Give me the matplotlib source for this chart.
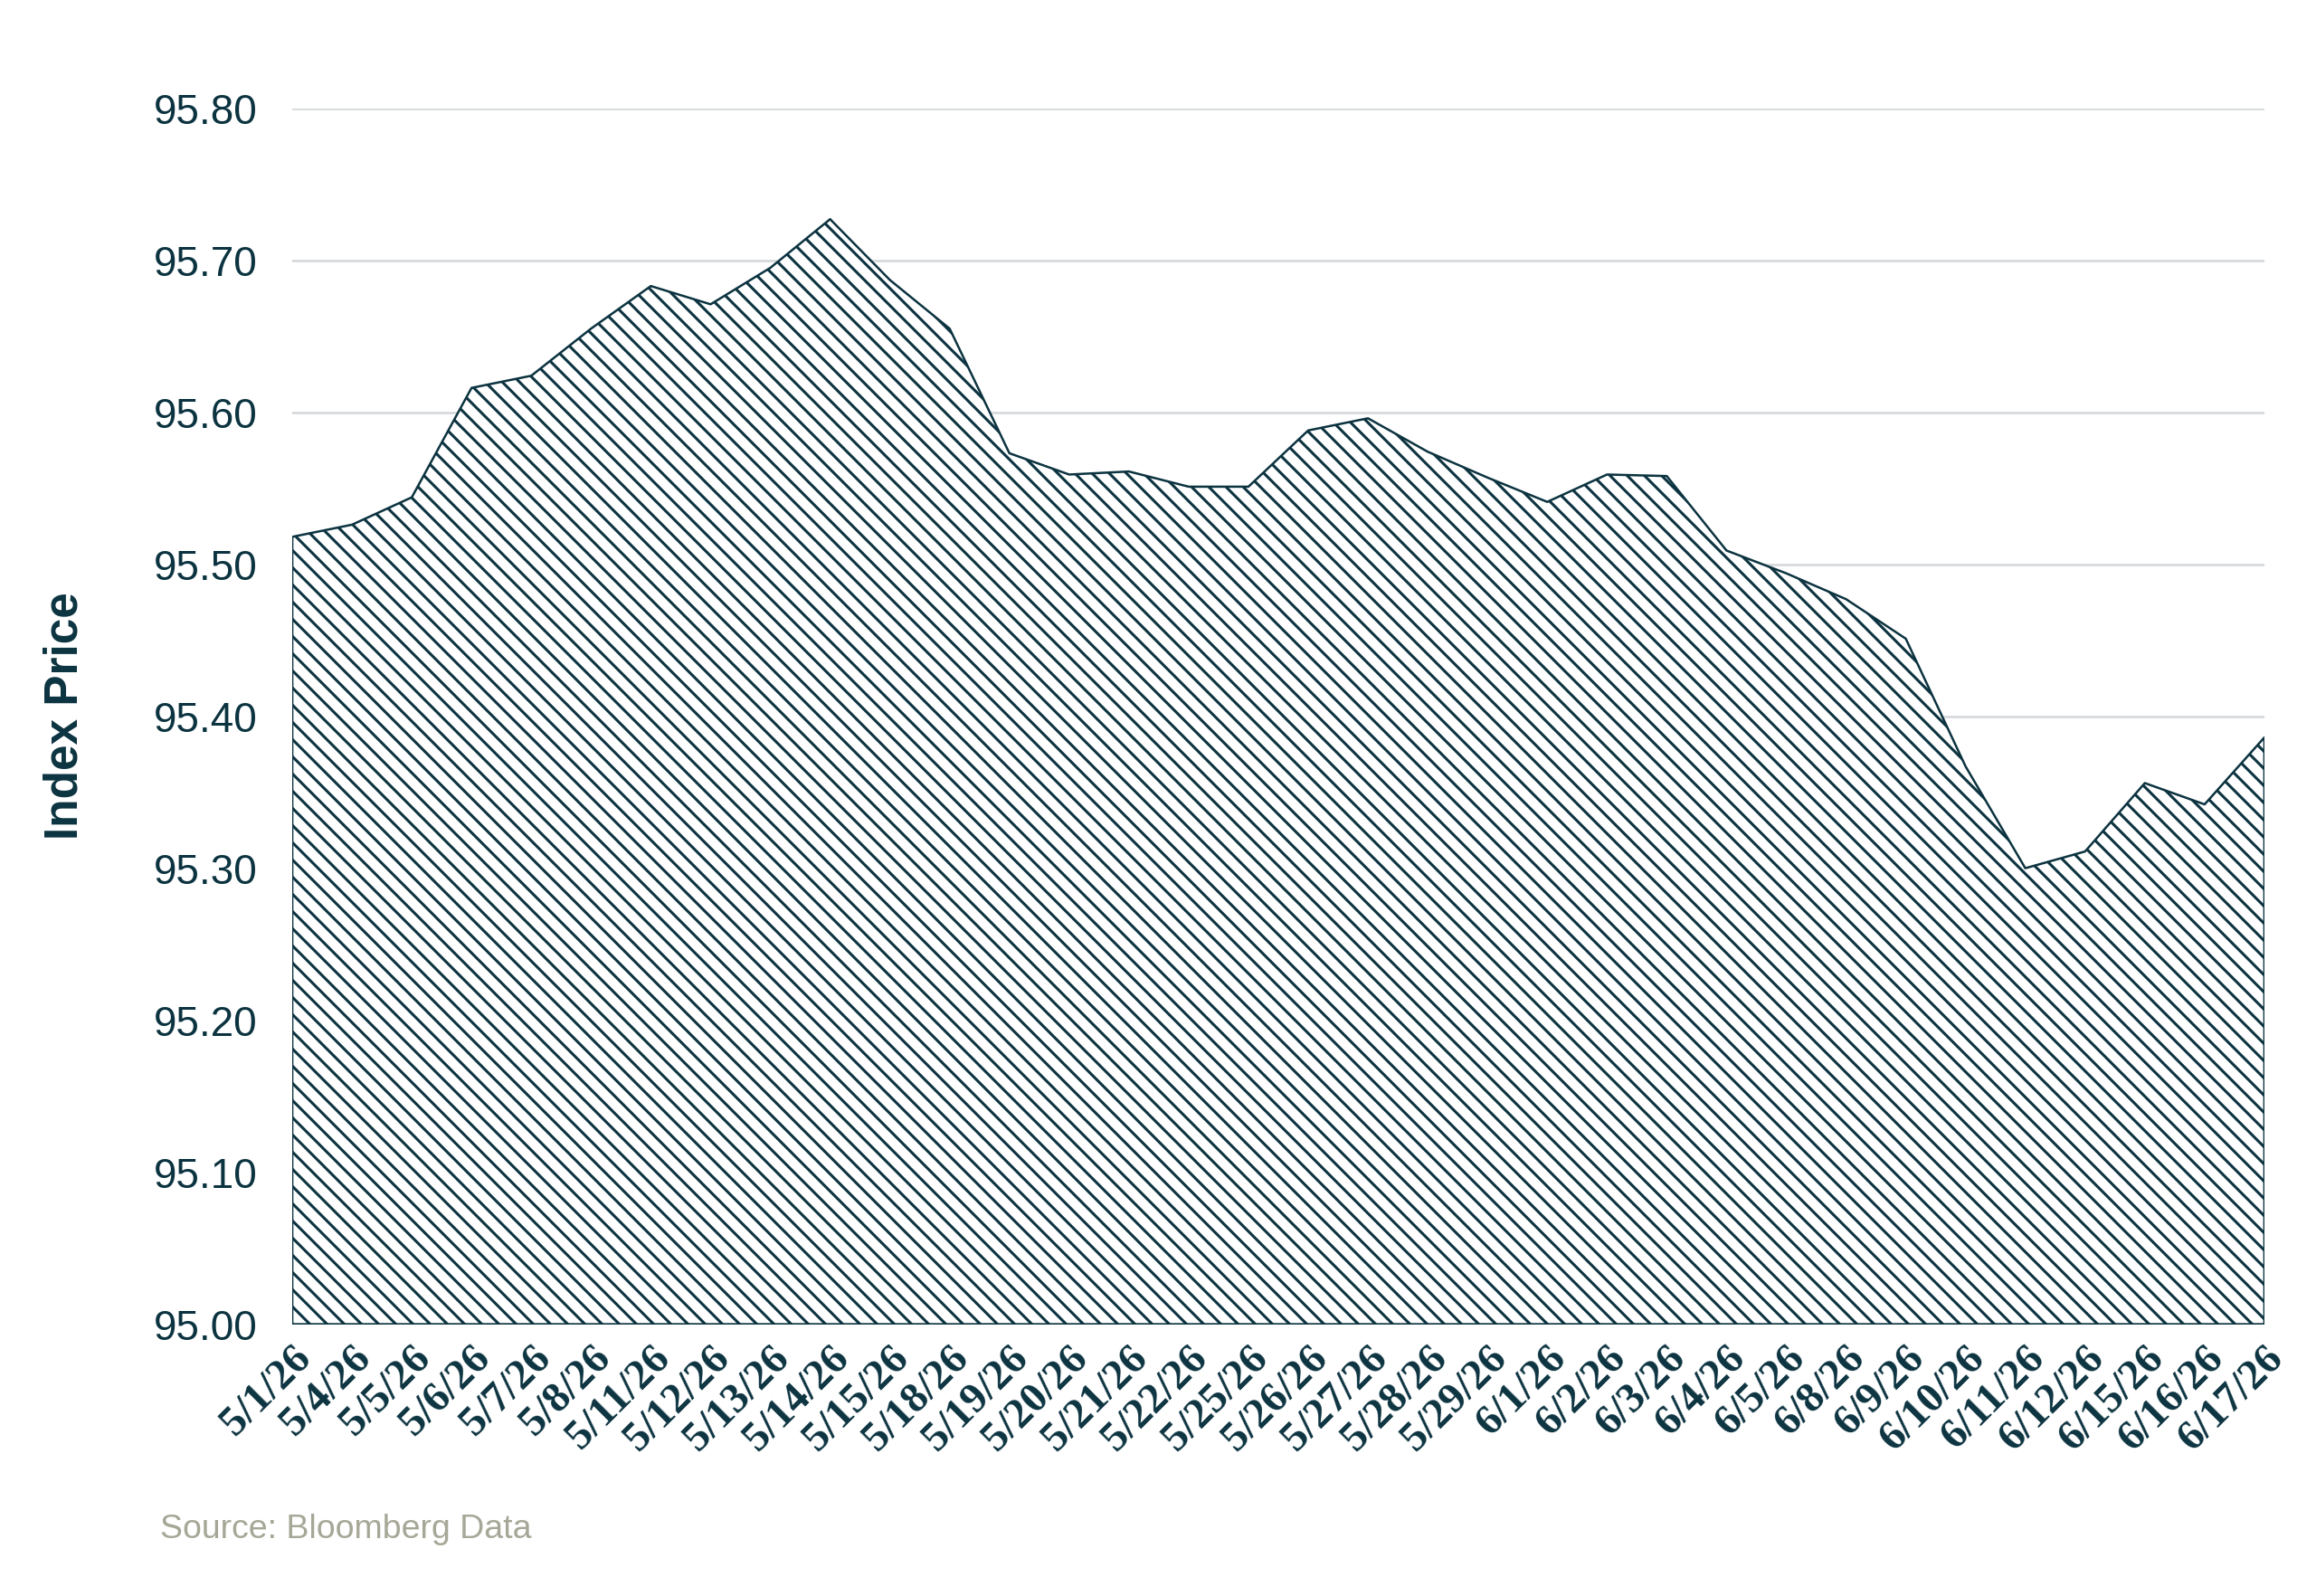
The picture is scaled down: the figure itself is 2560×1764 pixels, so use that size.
import matplotlib
matplotlib.use("Agg")
import matplotlib.pyplot as plt
import numpy as np

# trading days shown on the x axis
dates = ["5/1/26", "5/4/26", "5/5/26", "5/6/26", "5/7/26", "5/8/26", "5/11/26",
         "5/12/26", "5/13/26", "5/14/26", "5/15/26", "5/18/26", "5/19/26", "5/20/26",
         "5/21/26", "5/22/26", "5/25/26", "5/26/26", "5/27/26", "5/28/26", "5/29/26",
         "6/1/26", "6/2/26", "6/3/26", "6/4/26", "6/5/26", "6/8/26", "6/9/26",
         "6/10/26", "6/11/26", "6/12/26", "6/15/26", "6/16/26", "6/17/26"]
# index price
prices = [95.518, 95.526, 95.544, 95.616, 95.624, 95.655, 95.683,
          95.671, 95.695, 95.727, 95.687, 95.655, 95.573, 95.559,
          95.561, 95.551, 95.551, 95.588, 95.596, 95.574, 95.557,
          95.541, 95.559, 95.558, 95.509, 95.494, 95.477, 95.451,
          95.367, 95.300, 95.311, 95.356, 95.342, 95.386]
yticks = [95.00, 95.10, 95.20, 95.30, 95.40, 95.50, 95.60, 95.70, 95.80]

# dpi 114 gives the hatch spacing of the original; sizes below are scaled to it
DPI = 114
k = 100 / DPI
dark = "#0c3340"
plt.rcParams["hatch.linewidth"] = 2.2 * k

fig = plt.figure(figsize=(2560 / DPI, 1764 / DPI), dpi=DPI)
ax = fig.add_axes([0.1262, 0.1703, 0.8515, 0.7619])

x = np.arange(len(dates))
ax.fill_between(x, prices, yticks[0], facecolor="white", edgecolor=dark,
                hatch="\\\\", linewidth=1.8 * k, zorder=3)

ax.set_xlim(0, len(dates) - 1)
ax.set_ylim(yticks[0], yticks[-1])
ax.set_yticks(yticks)
ax.set_yticklabels([f"{v:.2f}" for v in yticks], fontsize=33 * k,
                   family="Liberation Sans", color=dark)
ax.set_xticks(x)
ax.set_xticklabels(dates, rotation=45, ha="right", rotation_mode="anchor",
                   fontsize=34 * k, family="Liberation Serif", fontweight="bold",
                   color=dark)
ax.tick_params(axis="both", length=0)
ax.tick_params(axis="y", pad=28 * k)
ax.tick_params(axis="x", pad=12 * k)

ax.grid(axis="y", color="#d3d6d8", linewidth=1.8 * k, zorder=0)
ax.set_axisbelow(True)
for s in ax.spines.values():
    s.set_visible(False)

ax.set_ylabel("Index Price", fontsize=37 * k, family="Liberation Sans",
              fontweight="bold", color=dark)
ax.yaxis.set_label_coords(-0.104, 0.5)

fig.text(0.069, 0.0417, "Source: Bloomberg Data", fontsize=27 * k,
         family="Liberation Sans", color="#a6a797", va="center")

fig.savefig("out.png", dpi=DPI)
